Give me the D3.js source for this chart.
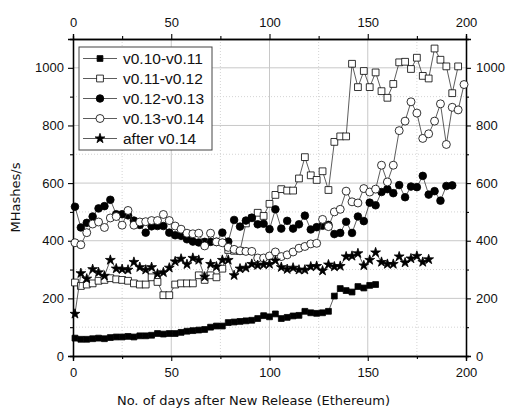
<!DOCTYPE html>
<html>
<head>
<meta charset="utf-8">
<script src="https://cdn.jsdelivr.net/npm/d3@7"></script>
<style>
  body { margin: 0; background: #fff; }
  svg { display: block; }
</style>
</head>
<body>
<div id="chart"></div>
<script>
// ---- data ----
const days = [1, 4, 7, 10, 13, 16, 19, 22, 25, 28, 31, 34, 37, 40, 43, 46, 49, 52, 55, 58,
  61, 64, 67, 70, 73, 76, 79, 82, 85, 88, 91, 94, 97, 100, 103, 106, 109, 112, 115, 118,
  121, 124, 127, 130, 133, 136, 139, 142, 145, 148, 151, 154, 157, 160, 163, 166, 169, 172, 175, 178,
  181, 184, 187, 190, 193, 196, 199];

const v010 = [62, 58, 58, 60, 62, 60, 64, 66, 66, 68, 66, 70, 70, 72, 78, 76, 78, 78, 82, 86,
  88, 90, 92, 100, 104, 104, 116, 118, 120, 122, 124, 130, 140, 136, 146, 130, 134, 139, 141, 155,
  150, 148, 150, 155, 208, 234, 227, 222, 241, 236, 245, 248];

const v011 = [255, 243, 248, 252, 261, 264, 270, 266, 264, 261, 252, 248, 248, 273, 257, 211, 211, 248, 252, 252,
  252, 280, 264, 280, 273, 303, 368, 365, 365, 460, 478, 497, 486, 528, 559, 579, 574, 574, 616, 690,
  627, 611, 641, 576, 743, 762, 762, 1014, 933, 989, 933, 984, 919, 896, 944, 1019, 1021, 996, 1035, 972,
  963, 1067, 1028, 1005, 912, 1005];

const v012 = [518, 446, 462, 484, 512, 520, 542, 492, 492, 488, 470, 455, 428, 450, 451, 451, 428, 419, 417, 405,
  397, 394, 396, 396, 396, 428, 397, 472, 449, 470, 480, 457, 459, 440, 509, 442, 469, 442, 457, 487,
  439, 447, 452, 455, 423, 427, 466, 427, 484, 468, 532, 523, 569, 579, 565, 593, 551, 588, 586, 625,
  560, 572, 539, 590, 592];

const v013 = [393, 386, 428, 458, 465, 446, 479, 484, 454, 505, 454, 465, 466, 470, 470, 491, 470, 451, 440, 426,
  424, 426, 382, 426, 396, 393, 377, 370, 365, 363, 363, 340, 340, 347, 361, 345, 351, 361, 374, 380,
  389, 391, 474, 449, 500, 509, 572, 535, 531, 581, 569, 579, 662, 604, 662, 782, 815, 882, 843, 755,
  771, 815, 875, 734, 863, 854, 942];

const after014 = [146, 287, 268, 301, 290, 278, 333, 303, 301, 299, 326, 308, 299, 308, 285, 290, 306, 328, 337, 318,
  340, 333, 275, 319, 310, 333, 333, 280, 303, 306, 319, 315, 317, 319, 331, 308, 301, 306, 299, 299,
  310, 312, 296, 317, 310, 312, 345, 347, 356, 314, 333, 359, 326, 319, 319, 345, 324, 338, 347, 326,
  335];

const seriesNames = ["v0.10-v0.11", "v0.11-v0.12", "v0.12-v0.13", "v0.13-v0.14", "after v0.14"];
const seriesValues = [v010, v011, v012, v013, after014];
const xTicks = [0, 50, 100, 150, 200];
const xMinor = [25, 75, 125, 175];
const yTicks = [0, 200, 400, 600, 800, 1000];
const yMinor = [100, 300, 500, 700, 900];

// marker style per series
const markers = [
  { type: d3.symbolSquare, size: 34, fill: "#000" },
  { type: d3.symbolSquare, size: 46, fill: "#fff" },
  { type: d3.symbolCircle, size: 46, fill: "#000" },
  { type: d3.symbolCircle, size: 50, fill: "#fff" },
  { type: d3.symbolStar, size: 30, fill: "#000" }
];

const W = 506, H = 414;
const margin = { top: 39, right: 40, bottom: 58, left: 73 };
const width = W - margin.left - margin.right;
const height = H - margin.top - margin.bottom;
const tickFont = "'Liberation Sans', Arial, sans-serif";

const svg = d3.select("#chart").append("svg")
  .attr("width", W)
  .attr("height", H);

const g = svg.append("g").attr("transform", `translate(${margin.left},${margin.top})`);

const x = d3.scaleLinear().domain([0, 200]).range([0, width]);
const y = d3.scaleLinear().domain([0, 1100]).range([height, 0]);

// grid
g.selectAll(".gx").data(xTicks.slice(1, -1)).join("line")
  .attr("x1", d => x(d)).attr("x2", d => x(d)).attr("y1", 0).attr("y2", height)
  .attr("stroke", "#c8c8c8").attr("stroke-width", 1);
g.selectAll(".gy").data(yTicks.slice(1)).join("line")
  .attr("y1", d => y(d)).attr("y2", d => y(d)).attr("x1", 0).attr("x2", width)
  .attr("stroke", "#c8c8c8").attr("stroke-width", 1);
g.selectAll(".gxm").data(xMinor).join("line")
  .attr("x1", d => x(d)).attr("x2", d => x(d)).attr("y1", 0).attr("y2", height)
  .attr("stroke", "#d4d4d4").attr("stroke-dasharray", "1,2");
g.selectAll(".gym").data(yMinor).join("line")
  .attr("y1", d => y(d)).attr("y2", d => y(d)).attr("x1", 0).attr("x2", width)
  .attr("stroke", "#d4d4d4").attr("stroke-dasharray", "1,2");

// axes (major + minor ticks)
function styleAxis(sel) {
  sel.attr("font-family", tickFont);
  sel.selectAll("text").style("font-size", "13px").style("font-family", tickFont).attr("fill", "#111");
  sel.selectAll("line").attr("stroke", "#000").attr("stroke-width", 1.1);
  sel.select(".domain").attr("stroke", "#000").attr("stroke-width", 1.3);
}
function minorAxis(axis, vals) {
  return axis.tickValues(vals).tickSize(3).tickFormat("");
}
const fmt = d3.format("d");

g.append("g").attr("transform", `translate(0,${height})`)
  .call(d3.axisBottom(x).tickValues(xTicks).tickFormat(fmt).tickSize(5).tickPadding(7)).call(styleAxis);
g.append("g").attr("transform", `translate(0,${height})`)
  .call(minorAxis(d3.axisBottom(x), xMinor)).call(styleAxis);
g.append("g")
  .call(d3.axisTop(x).tickValues(xTicks).tickFormat(fmt).tickSize(5).tickPadding(7)).call(styleAxis);
g.append("g")
  .call(minorAxis(d3.axisTop(x), xMinor)).call(styleAxis);
g.append("g")
  .call(d3.axisLeft(y).tickValues(yTicks).tickFormat(fmt).tickSize(5).tickPadding(4)).call(styleAxis);
g.append("g")
  .call(minorAxis(d3.axisLeft(y), yMinor)).call(styleAxis);
g.append("g").attr("transform", `translate(${width},0)`)
  .call(d3.axisRight(y).tickValues(yTicks).tickFormat(fmt).tickSize(5).tickPadding(5)).call(styleAxis);
g.append("g").attr("transform", `translate(${width},0)`)
  .call(minorAxis(d3.axisRight(y), yMinor)).call(styleAxis);

// series
const line = d3.line().x(d => x(d[0])).y(d => y(d[1]));

seriesValues.forEach((vals, i) => {
  const pts = vals.map((v, j) => [days[j], v]);
  const m = markers[i];
  g.append("path")
    .datum(pts)
    .attr("fill", "none")
    .attr("stroke", "#333")
    .attr("stroke-width", 0.8)
    .attr("d", line);
  g.selectAll(`.m${i}`).data(pts).join("path")
    .attr("class", `m${i}`)
    .attr("transform", d => `translate(${x(d[0])},${y(d[1])})`)
    .attr("d", d3.symbol().type(m.type).size(m.size))
    .attr("fill", m.fill)
    .attr("stroke", "#000")
    .attr("stroke-width", 0.8);
});

// legend
const legend = g.append("g").attr("transform", "translate(6,8)");
legend.append("rect")
  .attr("x", 0).attr("y", 0)
  .attr("width", 133).attr("height", 103)
  .attr("fill", "#fff")
  .attr("stroke", "#444")
  .attr("stroke-width", 1);
seriesNames.forEach((name, i) => {
  const ly = 11.5 + i * 20;
  const m = markers[i];
  legend.append("line")
    .attr("x1", 4).attr("x2", 38).attr("y1", ly).attr("y2", ly)
    .attr("stroke", "#333").attr("stroke-width", 0.8);
  legend.append("path")
    .attr("transform", `translate(21,${ly})`)
    .attr("d", d3.symbol().type(m.type).size(m.size))
    .attr("fill", m.fill)
    .attr("stroke", "#000")
    .attr("stroke-width", 0.8);
  legend.append("text")
    .attr("x", 44).attr("y", ly)
    .attr("dy", "0.36em")
    .style("font-family", tickFont)
    .style("font-size", "15.5px")
    .attr("fill", "#111")
    .text(name);
});

// axis titles
svg.append("text")
  .attr("transform", `translate(20,${margin.top + height / 2}) rotate(-90)`)
  .attr("text-anchor", "middle")
  .style("font-family", "'DejaVu Sans', Verdana, sans-serif")
  .style("font-size", "13px")
  .attr("fill", "#111")
  .text("MHashes/s");

svg.append("text")
  .attr("x", margin.left + width / 2 - 16)
  .attr("y", 405)
  .attr("text-anchor", "middle")
  .style("font-family", "'DejaVu Sans', Verdana, sans-serif")
  .style("font-size", "13px")
  .attr("fill", "#111")
  .text("No. of days after New Release (Ethereum)");
</script>
</body>
</html>
